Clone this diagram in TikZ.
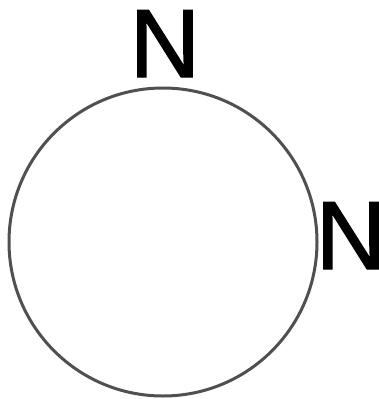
\documentclass[tikz,border=0pt]{standalone}
\usepackage{fontspec}
\setmainfont{Liberation Sans}
\newfontfamily\nfont[FakeBold=1.5]{Liberation Sans}
\definecolor{ring}{HTML}{505050}
\begin{document}
\begin{tikzpicture}[x=1pt,y=-1pt,
  lbl/.style={inner sep=0pt,outer sep=0pt,anchor=base,font=\nfont\fontsize{97}{97}\selectfont},
  ringstyle/.style={circle,draw=ring,line width=3pt,minimum size=308pt,inner sep=0pt}]
\useasboundingbox (0,0) rectangle (379,399);
\node[ringstyle] (c) at (163,242) {};
\node[lbl] (n1) at (165,77) {N};
\node[lbl] (n2) at (351,269) {N};
\end{tikzpicture}
\end{document}
